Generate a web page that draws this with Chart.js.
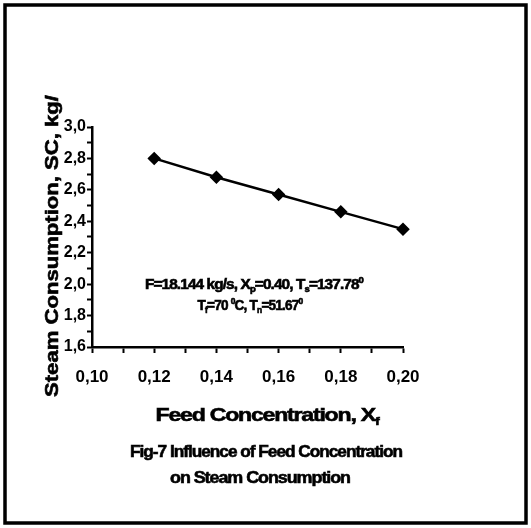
<!DOCTYPE html>
<html><head><meta charset="utf-8">
<script src="https://cdn.jsdelivr.net/npm/chart.js@4.4.0/dist/chart.umd.min.js"></script>
<style>html,body{margin:0;padding:0;background:#fff}#wrap{width:531px;height:528px;position:relative}</style>
</head><body><div id="wrap"><canvas id="c" width="531" height="528"></canvas></div>
<script>
const feedConcentration = [0.12, 0.14, 0.16, 0.18, 0.20];
const steamConsumption = [2.80, 2.68, 2.57, 2.46, 2.35];
const xTickLabels = ["0,10", "0,12", "0,14", "0,16", "0,18", "0,20"];
const yTickLabels = ["1,6", "1,8", "2,0", "2,2", "2,4", "2,6", "2,8", "3,0"];
const yTitle = "Steam Consumption, SC, kg/";
const xTitle = [["Feed Concentration, X", "n"], ["f", "sub"]];
const caption1 = "Fig-7 Influence of Feed Concentration";
const caption2 = "on Steam Consumption";
const note1 = [["F=18.144 kg/s, X", "n"], ["p", "sub"], ["=0.40, T", "n"], ["s", "sub"], ["=137.78", "n"], ["0", "sup"]];
const note2 = [["T", "n"], ["f", "sub"], ["=70 ", "n"], ["0", "sup"], ["C, T", "n"], ["n", "sub"], ["=51.67", "n"], ["0", "sup"]];

const FONT = '"Liberation Sans", Arial, sans-serif';

function drawRich(ctx, segs, cx, cy, size, spacing, targetW) {
  ctx.save();
  ctx.letterSpacing = spacing + 'px';
  const parts = segs.map(([t, k]) => {
    const s = k === 'n' ? size : size * 0.62;
    ctx.font = 'bold ' + s + 'px ' + FONT;
    return {t, k, s, w: ctx.measureText(t).width};
  });
  const total = parts.reduce((a, p) => a + p.w, 0);
  const sx = targetW ? targetW / total : 1;
  ctx.translate(cx, cy);
  ctx.scale(sx, 1);
  let x = -total / 2;
  ctx.textBaseline = 'alphabetic';
  ctx.textAlign = 'left';
  ctx.fillStyle = '#000';
  ctx.strokeStyle = '#000';
  ctx.lineWidth = 0.6;
  parts.forEach(p => {
    ctx.font = 'bold ' + p.s + 'px ' + FONT;
    let y = size * 0.36;
    if (p.k === 'sub') y += size * 0.22;
    if (p.k === 'sup') y -= size * 0.45;
    ctx.fillText(p.t, x, y);
    ctx.strokeText(p.t, x, y);
    x += p.w;
  });
  ctx.restore();
}

const decor = {
  id: 'decor',
  afterDraw(chart) {
    const ctx = chart.ctx;
    ctx.save();
    ctx.strokeStyle = '#000';
    ctx.lineWidth = 3.5;
    ctx.strokeRect(5, 5, 521, 518);
    // y title
    ctx.save();
    ctx.translate(52, 246);
    ctx.rotate(-Math.PI / 2);
    drawRich(ctx, [[yTitle, 'n']], 0, 0, 18, 0, 302);
    ctx.restore();
    drawRich(ctx, xTitle, 267, 414, 19, -1, 223);
    drawRich(ctx, [[caption1, 'n']], 266, 451, 17, -1, 272);
    drawRich(ctx, [[caption2, 'n']], 260, 477, 17, -1, 180);
    drawRich(ctx, note1, 254, 284, 14, -0.8, 218);
    drawRich(ctx, note2, 250, 305, 14, -0.8, 105);
    ctx.restore();
  }
};

new Chart(document.getElementById('c'), {
  type: 'scatter',
  data: {
    datasets: [{
      data: feedConcentration.map((x, i) => ({x, y: steamConsumption[i]})),
      showLine: true,
      clip: false,
      borderColor: '#000',
      borderWidth: 2.5,
      backgroundColor: '#000',
      pointStyle: 'rectRot',
      pointRadius: 5,
      pointBackgroundColor: '#000',
      pointBorderColor: '#000',
      tension: 0
    }]
  },
  options: {
    responsive: false,
    animation: false,
    devicePixelRatio: 1,
    layout: {padding: {top: 127, right: 128, left: 0, bottom: 0}},
    plugins: {legend: {display: false}, tooltip: {enabled: false}},
    scales: {
      x: {
        type: 'linear', min: 0.10, max: 0.20,
        afterFit(s) { s.height = 181; },
        afterBuildTicks(s) {
          const t = [];
          for (let i = 0; i <= 10; i++) t.push({value: 0.10 + i * 0.01});
          s.ticks = t;
        },
        ticks: {
          autoSkip: false, maxRotation: 0, padding: 14, color: '#000',
          font: {family: FONT, size: 17, weight: 'bold'},
          callback(v) {
            const k = Math.round(v * 100);
            return k % 2 === 0 ? xTickLabels[(k - 10) / 2] : '';
          }
        },
        grid: {display: true, drawOnChartArea: false, drawTicks: true, tickLength: 6, color: '#000', tickWidth: 2},
        border: {display: true, color: '#000', width: 2.5}
      },
      y: {
        type: 'linear', min: 1.6, max: 3.0,
        afterFit(s) { s.width = 92; },
        afterBuildTicks(s) {
          const t = [];
          for (let i = 0; i <= 14; i++) t.push({value: 1.6 + i * 0.1});
          s.ticks = t;
        },
        ticks: {
          autoSkip: false, padding: 1, color: '#000',
          font: {family: FONT, size: 16, weight: 'bold'},
          callback(v) {
            const k = Math.round(v * 10);
            return k % 2 === 0 ? yTickLabels[(k - 16) / 2] : '';
          }
        },
        grid: {display: true, drawOnChartArea: false, drawTicks: true, tickLength: 5, color: '#000', tickWidth: 2},
        border: {display: true, color: '#000', width: 2.5}
      }
    }
  },
  plugins: [decor]
});
</script></body></html>
